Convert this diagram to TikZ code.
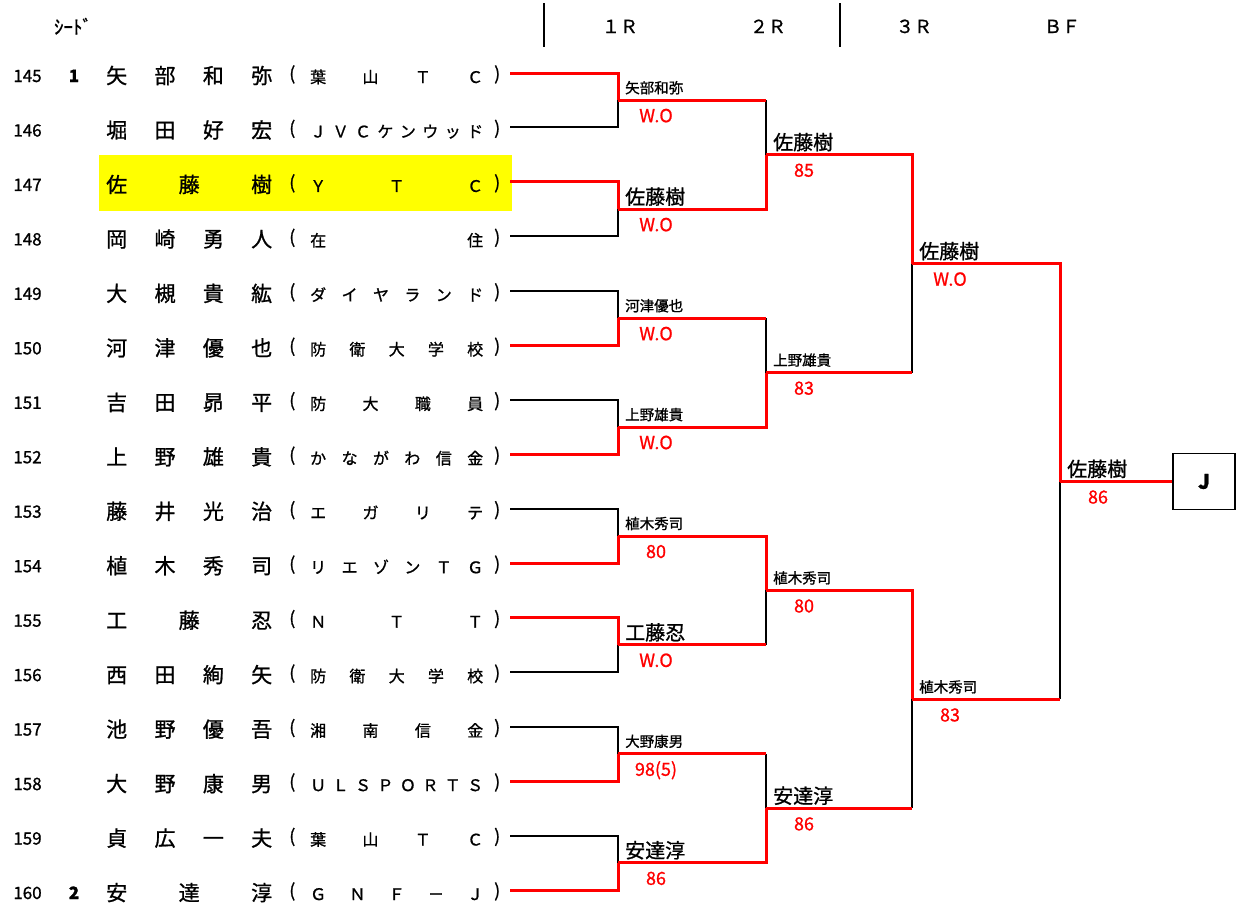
\documentclass[tikz,border=0pt]{standalone}
\usepackage{fontspec}
\setmainfont{Noto Sans CJK JP}[FakeBold=1.0]
\usetikzlibrary{positioning}
\definecolor{winred}{RGB}{255, 0, 0}
\definecolor{hilite}{RGB}{255, 255, 0}

% spread the characters of a word over a fixed box
\makeatletter
\newcommand\spreadchars[1]{\expandafter\spr@first#1\relax}
\def\spr@first#1{#1\spr@rest}
\def\spr@rest#1{\ifx#1\relax\else\hfil#1\expandafter\spr@rest\fi}
\makeatother
\newcommand\clubparen[1]{\raisebox{3pt}{\fontsize{18pt}{18pt}\selectfont #1}}

\begin{document}
\begin{tikzpicture}[
    x=1pt, y=-1pt,
    numtxt/.style={font=\fontsize{17pt}{18pt}\selectfont, inner sep=0pt, anchor=base},
    seedtxt/.style={font=\fontsize{17pt}{18pt}\selectfont\bfseries, inner sep=0pt, anchor=base},
    nametxt/.style={font=\fontsize{21pt}{24pt}\selectfont, inner sep=0pt, anchor=base west},
    clubtxt/.style={font=\fontsize{16pt}{18pt}\selectfont, inner sep=0pt, anchor=base west},
    hdrtxt/.style={font=\fontsize{18pt}{20pt}\selectfont, inner sep=0pt, anchor=base},
    hdrline/.style={draw=black, line width=1.5pt},
    winline/.style={draw=winred, line width=3pt},
    loseline/.style={draw=black, line width=2pt},
    bigwin/.style={font=\fontsize{20pt}{22pt}\selectfont, inner sep=0pt, anchor=base west,
                   xshift=7pt, yshift=5pt},
    smallwin/.style={font=\fontsize{14.5pt}{16pt}\selectfont, inner sep=0pt, anchor=base west,
                     xshift=7pt, yshift=7pt},
    score/.style={font=\fontsize{18pt}{20pt}\selectfont, text=winred, inner sep=0pt, anchor=base,
                  xshift=38pt, yshift=-22pt},
    jbox/.style={draw=black, line width=1.5pt, minimum width=62pt, minimum height=56pt,
                 font=\fontsize{20pt}{22pt}\selectfont\bfseries}
]
\useasboundingbox (0,0) rectangle (1236,910);

% Highlight of the champion's row
\fill[hilite] (99,155) rectangle (512,211);

% Header
\node[hdrtxt, font=\fontsize{19pt}{20pt}\selectfont] (hseed) at (73,34) {ｼｰﾄﾞ};
\draw[hdrline] (544,3) -- (544,47);
\draw[hdrline] (840,3) -- (840,47);
\node[hdrtxt] (h1r) at (620,33) {１Ｒ};
\node[hdrtxt] (h2r) at (768,33) {２Ｒ};
\node[hdrtxt] (h3r) at (914,33) {３Ｒ};
\node[hdrtxt] (hbf) at (1062,33) {ＢＦ};

% Draw rows: number, seed, name, club
\foreach \num/\seed/\nm/\club [count=\i] in {
    145/1/矢部和弥/葉山ＴＣ, 146//堀田好宏/ＪＶＣケンウッド,
    147//佐藤樹/ＹＴＣ, 148//岡崎勇人/在住,
    149//大槻貴紘/ダイヤランド, 150//河津優也/防衛大学校,
    151//吉田昴平/防大職員, 152//上野雄貴/かながわ信金,
    153//藤井光治/エガリテ, 154//植木秀司/リエゾンＴＧ,
    155//工藤忍/ＮＴＴ, 156//西田絢矢/防衛大学校,
    157//池野優吾/湘南信金, 158//大野康男/ＵＬＳＰＯＲＴＳ,
    159//貞広一夫/葉山ＴＣ, 160/2/安達淳/ＧＮＦ－Ｊ}{
    \pgfmathsetmacro\ry{73+54.467*(\i-1)}
    \node[numtxt] (no\num) at (27.5,\ry+9) {\num};
    \node[seedtxt] (sd\num) at (74,\ry+9) {\seed};
    \node[nametxt] (nm\num) at (106,\ry+10.5) {\hbox to 166pt{\spreadchars{\nm}}};
    \node[clubtxt] (cl\num) at (281,\ry+10) {\hbox to 29pt{\hskip8pt\clubparen{(}\hfil}\hbox to 173pt{\spreadchars{\club}}\hskip11pt\clubparen{)}};
    \coordinate (r\num) at (510,\ry);
}

% Junctions
\coordinate (a1) at (618,100.2);
\coordinate (a2) at (618,209.2);
\coordinate (a3) at (618,318.2);
\coordinate (a4) at (618,427.1);
\coordinate (a5) at (618,536.0);
\coordinate (a6) at (618,644.9);
\coordinate (a7) at (618,753.8);
\coordinate (a8) at (618,862.8);
\coordinate (b1) at (766,154.7);
\coordinate (b2) at (766,372.6);
\coordinate (b3) at (766,590.4);
\coordinate (b4) at (766,808.3);
\coordinate (c1) at (912,263.7);
\coordinate (c2) at (912,699.4);
\coordinate (d1) at (1060,481.5);
\node[jbox] (champ) at (1204,481.5) {J};

% 1R: losers
\draw[loseline] (r146) -| (a1);
\draw[loseline] (r148) -| (a2);
\draw[loseline] (r149) -| (a3);
\draw[loseline] (r151) -| (a4);
\draw[loseline] (r153) -| (a5);
\draw[loseline] (r156) -| (a6);
\draw[loseline] (r157) -| (a7);
\draw[loseline] (r159) -| (a8);
% 1R: winners
\draw[winline] (r145) -| (a1);
\draw[winline] (r147) -| (a2);
\draw[winline] (r150) -| (a3);
\draw[winline] (r152) -| (a4);
\draw[winline] (r154) -| (a5);
\draw[winline] (r155) -| (a6);
\draw[winline] (r158) -| (a7);
\draw[winline] (r160) -| (a8);

% 2R
\draw[loseline] (a1 -| b1) -- (b1);
\draw[loseline] (a3 -| b2) -- (b2);
\draw[loseline] (a6 -| b3) -- (b3);
\draw[loseline] (a7 -| b4) -- (b4);
\draw[winline] (a1) -- (a1 -| b1);
\draw[winline] (a3) -- (a3 -| b2);
\draw[winline] (a6) -- (a6 -| b3);
\draw[winline] (a7) -- (a7 -| b4);
\draw[winline] (a2) -| (b1);
\draw[winline] (a4) -| (b2);
\draw[winline] (a5) -| (b3);
\draw[winline] (a8) -| (b4);

% 3R
\draw[loseline] (b2 -| c1) -- (c1);
\draw[loseline] (b4 -| c2) -- (c2);
\draw[winline] (b2) -- (b2 -| c1);
\draw[winline] (b4) -- (b4 -| c2);
\draw[winline] (b1) -| (c1);
\draw[winline] (b3) -| (c2);

% BF and final
\draw[loseline] (c2 -| d1) -- (d1);
\draw[winline] (c2) -- (c2 -| d1);
\draw[winline] (c1) -| (d1);
\draw[winline] (d1) -- (champ.west);

% Winners and scores
\foreach \j/\who/\sty/\sc in {
    a1/矢部和弥/smallwin/W.O, a2/佐藤樹/bigwin/W.O,
    a3/河津優也/smallwin/W.O, a4/上野雄貴/smallwin/W.O,
    a5/植木秀司/smallwin/80, a6/工藤忍/bigwin/W.O,
    a7/大野康男/smallwin/98(5), a8/安達淳/bigwin/86,
    b1/佐藤樹/bigwin/85, b2/上野雄貴/smallwin/83,
    b3/植木秀司/smallwin/80, b4/安達淳/bigwin/86,
    c1/佐藤樹/bigwin/W.O, c2/植木秀司/smallwin/83,
    d1/佐藤樹/bigwin/86}{
    \node[\sty] (w\j) at (\j) {\who};
    \node[score] (s\j) at (\j) {\sc};
}
\end{tikzpicture}
\end{document}
